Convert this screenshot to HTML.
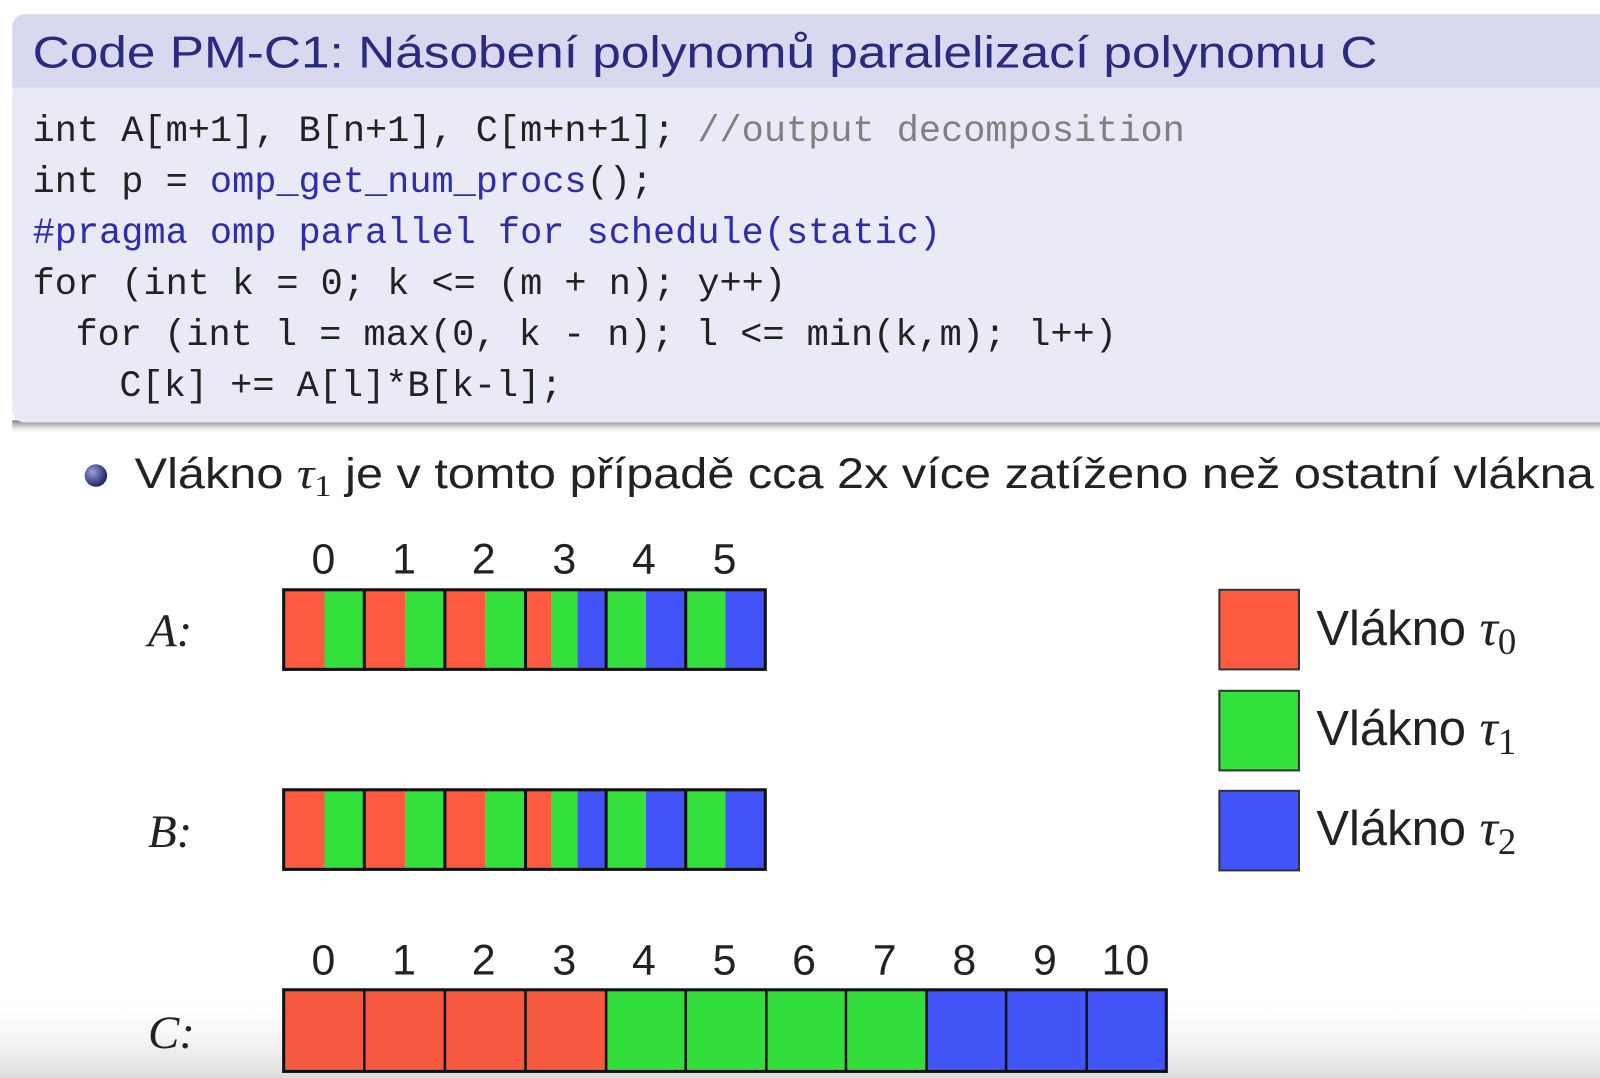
<!DOCTYPE html>
<html><head><meta charset="utf-8"><style>
html,body{margin:0;padding:0;background:#fff;width:1600px;height:1078px;overflow:hidden}
.pre{white-space:pre}
</style></head><body>
<svg width="1600" height="1078" viewBox="0 0 1600 1078" xmlns="http://www.w3.org/2000/svg">
<defs>
<linearGradient id="bot" x1="0" y1="0" x2="0" y2="1">
<stop offset="0" stop-color="#ffffff" stop-opacity="0"/>
<stop offset="1" stop-color="#dcdcdc"/>
</linearGradient>
<linearGradient id="sh" x1="0" y1="0" x2="0" y2="1">
<stop offset="0" stop-color="#777"/>
<stop offset="1" stop-color="#fff" stop-opacity="0"/>
</linearGradient>
<radialGradient id="ball" cx="0.35" cy="0.35" r="0.7">
<stop offset="0" stop-color="#9aa0e0"/>
<stop offset="1" stop-color="#1a1a60"/>
</radialGradient>
</defs>
<rect width="1600" height="1078" fill="#fff"/>
<rect x="0" y="990" width="1600" height="88" fill="url(#bot)"/>
<g transform="scale(1.0204)">
<rect x="12" y="412" width="1590" height="14" fill="url(#sh)"/>
<rect x="12" y="14" width="1600" height="400" rx="12" fill="#e9eaf6"/>
<path d="M12 86 V26 a12 12 0 0 1 12 -12 H1600 V86 Z" fill="#d8d9ef"/>
<text x="32" y="66" font-family="Liberation Sans, DejaVu Sans, sans-serif" font-size="44" fill="#2a2a80" textLength="1318" lengthAdjust="spacingAndGlyphs">Code PM-C1: Násobení polynomů paralelizací polynomu C</text>
<g font-family="Liberation Mono, DejaVu Sans Mono, monospace" font-size="36.2" fill="#222" class="pre">
<text x="32" y="138" class="pre">int A[m+1], B[n+1], C[m+n+1]; <tspan fill="#808080">//output decomposition</tspan></text>
<text x="32" y="188" class="pre">int p = <tspan fill="#2d2db0">omp_get_num_procs</tspan>();</text>
<text x="32" y="238" fill="#2d2db0" class="pre">#pragma omp parallel for schedule(static)</text>
<text x="32" y="288" class="pre">for (int k = 0; k &lt;= (m + n); y++)</text>
<text x="74" y="338" class="pre">for (int l = max(0, k - n); l &lt;= min(k,m); l++)</text>
<text x="117" y="388" class="pre">C[k] += A[l]*B[k-l];</text>
</g>
<circle cx="94" cy="466" r="11" fill="url(#ball)"/>
<text x="132" y="478" font-family="Liberation Sans, DejaVu Sans, sans-serif" font-size="42" fill="#222" textLength="1430" lengthAdjust="spacingAndGlyphs" class="pre">Vlákno <tspan font-family="Liberation Serif, serif" font-style="italic">τ</tspan><tspan font-family="Liberation Serif, serif" font-size="30" dy="8">1</tspan><tspan dy="-8"> je v tomto případě cca 2x více zatíženo než ostatní vlákna</tspan></text>
<g font-family="Liberation Sans, DejaVu Sans, sans-serif" font-size="42" fill="#222" text-anchor="middle">
<text x="317" y="562">0</text><text x="396" y="562">1</text><text x="474" y="562">2</text><text x="553" y="562">3</text><text x="631" y="562">4</text><text x="710" y="562">5</text>
<text x="317" y="955">0</text><text x="396" y="955">1</text><text x="474" y="955">2</text><text x="553" y="955">3</text><text x="631" y="955">4</text><text x="710" y="955">5</text><text x="788" y="955">6</text><text x="867" y="955">7</text><text x="945" y="955">8</text><text x="1024" y="955">9</text><text x="1103" y="955">10</text>
</g>
<g font-family="Liberation Serif, serif" font-style="italic" font-size="46" fill="#222">
<text x="145" y="633">A:</text><text x="145" y="830">B:</text><text x="145" y="1027">C:</text>
</g>
<g id="barA">
<rect x="278" y="578" width="40" height="78" fill="#fe5a40"/>
<rect x="318" y="578" width="39" height="78" fill="#33e03c"/>
<rect x="357" y="578" width="40" height="78" fill="#fe5a40"/>
<rect x="397" y="578" width="39" height="78" fill="#33e03c"/>
<rect x="436" y="578" width="40" height="78" fill="#fe5a40"/>
<rect x="476" y="578" width="39" height="78" fill="#33e03c"/>
<rect x="515" y="578" width="25" height="78" fill="#fe5a40"/>
<rect x="540" y="578" width="26" height="78" fill="#33e03c"/>
<rect x="566" y="578" width="28" height="78" fill="#4254f8"/>
<rect x="594" y="578" width="39" height="78" fill="#33e03c"/>
<rect x="633" y="578" width="39" height="78" fill="#4254f8"/>
<rect x="672" y="578" width="39" height="78" fill="#33e03c"/>
<rect x="711" y="578" width="39" height="78" fill="#4254f8"/>
<g stroke="#111" stroke-width="3">
<line x1="357" y1="578" x2="357" y2="656"/><line x1="436" y1="578" x2="436" y2="656"/><line x1="515" y1="578" x2="515" y2="656"/><line x1="594" y1="578" x2="594" y2="656"/><line x1="672" y1="578" x2="672" y2="656"/>
</g>
<rect x="278" y="578" width="472" height="78" fill="none" stroke="#111" stroke-width="3"/>
</g>
<use href="#barA" y="196"/>
<g>
<rect x="278" y="970" width="316" height="80" fill="#f55a40"/>
<rect x="594" y="970" width="314" height="80" fill="#33de3c"/>
<rect x="908" y="970" width="235" height="80" fill="#4254f6"/>
<g stroke="#111" stroke-width="2.5">
<line x1="357" y1="970" x2="357" y2="1050"/><line x1="436" y1="970" x2="436" y2="1050"/><line x1="515" y1="970" x2="515" y2="1050"/><line x1="594" y1="970" x2="594" y2="1050"/><line x1="672" y1="970" x2="672" y2="1050"/><line x1="751" y1="970" x2="751" y2="1050"/><line x1="829" y1="970" x2="829" y2="1050"/><line x1="908" y1="970" x2="908" y2="1050"/><line x1="986" y1="970" x2="986" y2="1050"/><line x1="1065" y1="970" x2="1065" y2="1050"/>
</g>
<rect x="278" y="970" width="865" height="80" fill="none" stroke="#111" stroke-width="3"/>
</g>
<rect x="1195" y="578" width="78" height="78" fill="#fe5a40" stroke="#333" stroke-width="2"/>
<rect x="1195" y="677" width="78" height="78" fill="#33e03c" stroke="#333" stroke-width="2"/>
<rect x="1195" y="775" width="78" height="78" fill="#4254f8" stroke="#333" stroke-width="2"/>
<g font-family="Liberation Sans, DejaVu Sans, sans-serif" font-size="48" fill="#222">
<text x="1290" y="632" class="pre">Vlákno <tspan font-family="Liberation Serif, serif" font-style="italic" font-size="50">τ</tspan><tspan font-family="Liberation Serif, serif" font-size="36" dy="9">0</tspan></text>
<text x="1290" y="730" class="pre">Vlákno <tspan font-family="Liberation Serif, serif" font-style="italic" font-size="50">τ</tspan><tspan font-family="Liberation Serif, serif" font-size="36" dy="9">1</tspan></text>
<text x="1290" y="828" class="pre">Vlákno <tspan font-family="Liberation Serif, serif" font-style="italic" font-size="50">τ</tspan><tspan font-family="Liberation Serif, serif" font-size="36" dy="9">2</tspan></text>
</g>
</g>
</svg>
</body></html>
